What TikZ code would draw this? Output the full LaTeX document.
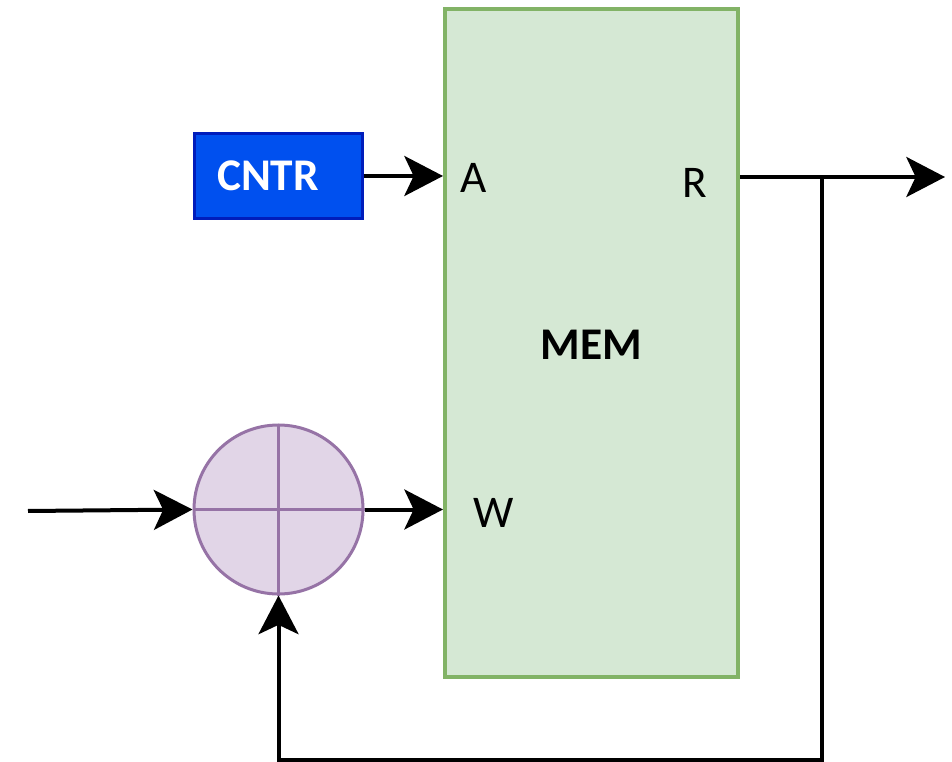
\documentclass[tikz,border=0pt]{standalone}
\usepackage{fontspec}
\setmainfont{Carlito}
\usetikzlibrary{arrows.meta, positioning}
\definecolor{memfill}{HTML}{D5E8D4}
\definecolor{memline}{HTML}{82B366}
\definecolor{cntrfill}{HTML}{0050EF}
\definecolor{cntrline}{HTML}{001DBC}
\definecolor{addfill}{HTML}{E1D5E7}
\definecolor{addline}{HTML}{9673A6}
\begin{document}
\begin{tikzpicture}[x=0.75pt, y=-0.75pt, mem/.style={draw=memline, fill=memfill, line width=3pt, minimum width=219.75pt, minimum height=501pt, font=\fontsize{34pt}{40pt}\selectfont\bfseries}, counter/.style={draw=cntrline, fill=cntrfill, line width=2.25pt, minimum width=126pt, minimum height=63.75pt}, adder/.style={circle, draw=addline, fill=addfill, line width=2.25pt, minimum size=126.75pt, inner sep=0pt}, port/.style={font=\fontsize{34pt}{40pt}\selectfont, inner sep=0pt}, arrow/.style={-{Stealth[length=29pt, width=30pt, inset=7pt]}, line width=3pt}]
\useasboundingbox (0,0) rectangle (952,762);
\node[mem, text height=25pt, text depth=0pt] (mem) at (591.5,343) {MEM};
\node[counter, label={[text=white, font=\fontsize{34pt}{40pt}\selectfont\bfseries, xshift=-7.5pt]center:CNTR}] (cntr) at (278,176) {};
\node[adder] (add) at (278.5,509.5) {};
\draw[addline, line width=2.25pt] (add.north) -- (add.south) (add.west) -- (add.east);
\node[port] (a) at (474,178) {A};
\node[port] (r) at (695,183) {R};
\node[port] (w) at (494,513) {W};
\coordinate (in) at (28,511);
\coordinate (out) at (945,177);
\coordinate (tap) at (822,177);
\coordinate (fb) at (822,760);
\draw[arrow] (cntr.east) -- (mem.west |- cntr.east);
\draw[arrow] (in) -- (add.west);
\draw[arrow] (add.east) -- (mem.west |- add.east);
\draw[arrow] (mem.east |- out) -- (out);
\draw[arrow] (tap) -- (fb) -| (add.south);
\end{tikzpicture}
\end{document}
